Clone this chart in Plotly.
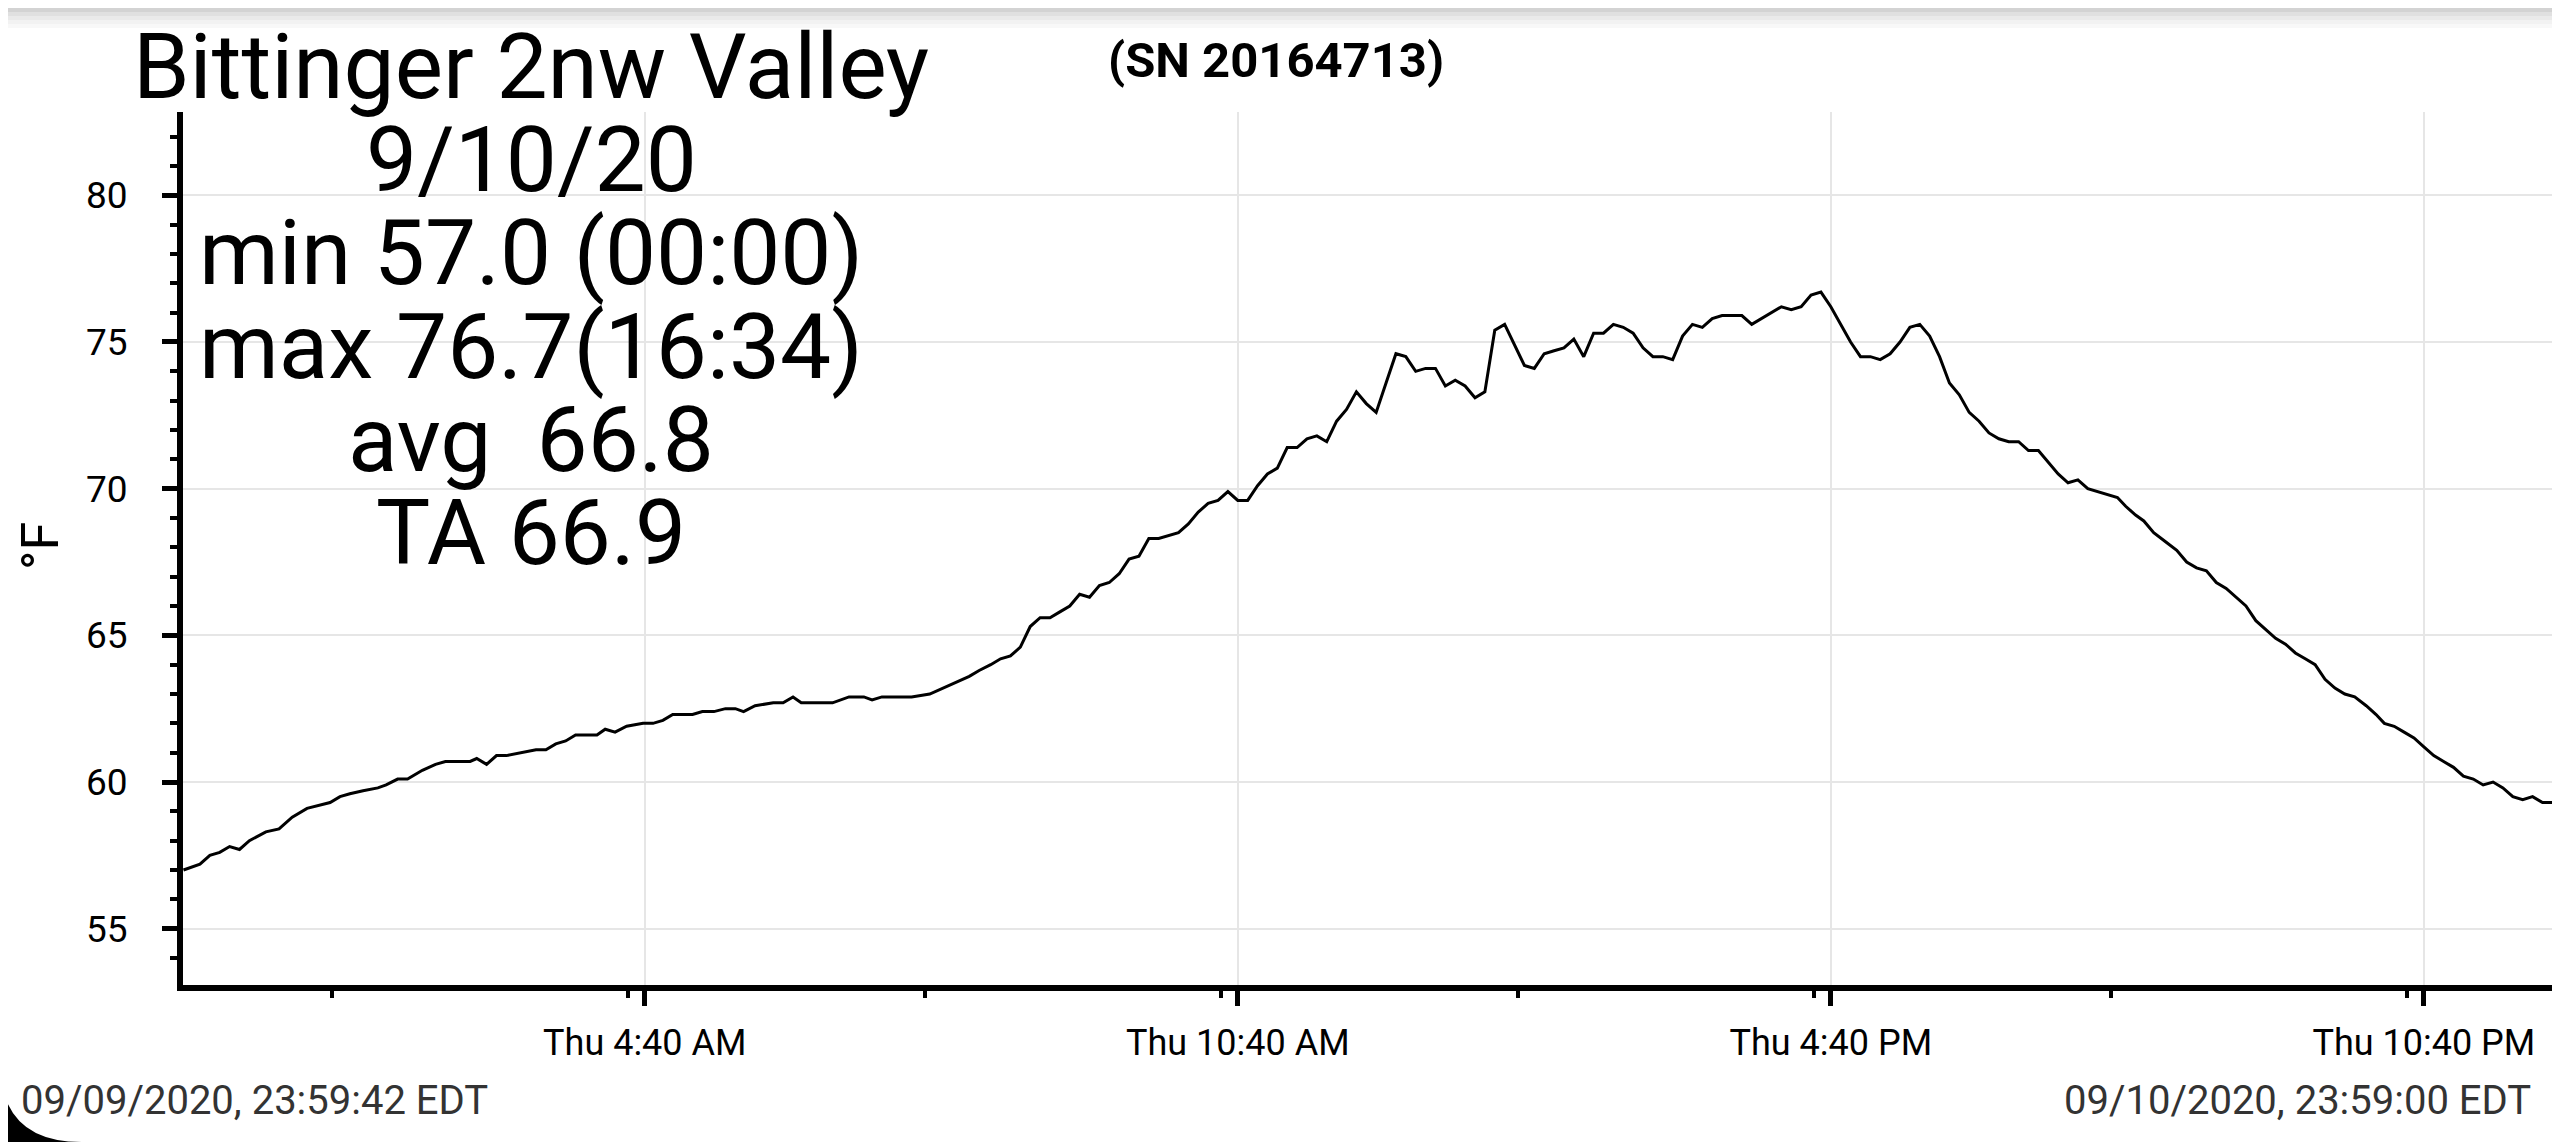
import plotly.graph_objects as go

# station readings for 9/10/20 (time of day, deg F)
times = [
    "00:00", "00:10", "00:16", "00:22", "00:28", "00:34", "00:40", "00:50", "00:58", "01:06",
    "01:15", "01:22", "01:29", "01:35", "01:41", "01:49", "01:58", "02:03", "02:10", "02:16",
    "02:25", "02:33", "02:39", "02:54", "02:58", "03:04", "03:10", "03:16", "03:24", "03:34",
    "03:40", "03:46", "03:52", "03:58", "04:05", "04:11", "04:16", "04:22", "04:29", "04:39",
    "04:45", "04:51", "04:57", "05:09", "05:15", "05:22", "05:29", "05:35", "05:40", "05:47",
    "05:58", "06:04", "06:10", "06:15", "06:34", "06:44", "06:53", "06:58", "07:04", "07:22",
    "07:33", "07:41", "07:49", "07:57", "08:03", "08:10", "08:16", "08:22", "08:28", "08:34",
    "08:40", "08:46", "08:52", "08:58", "09:04", "09:10", "09:16", "09:22", "09:28", "09:34",
    "09:40", "09:46", "09:52", "09:58", "10:04", "10:10", "10:16", "10:22", "10:28", "10:34",
    "10:40", "10:46", "10:52", "10:58", "11:04", "11:10", "11:16", "11:22", "11:28", "11:34",
    "11:40", "11:46", "11:52", "11:58", "12:04", "12:10", "12:16", "12:22", "12:28", "12:34",
    "12:40", "12:46", "12:52", "12:58", "13:04", "13:10", "13:16", "13:22", "13:28", "13:34",
    "13:40", "13:46", "13:52", "13:58", "14:04", "14:10", "14:16", "14:22", "14:28", "14:34",
    "14:40", "14:46", "14:52", "14:58", "15:04", "15:10", "15:16", "15:22", "15:28", "15:34",
    "15:40", "15:46", "15:52", "15:58", "16:04", "16:10", "16:16", "16:22", "16:28", "16:34",
    "16:40", "16:46", "16:52", "16:58", "17:04", "17:10", "17:16", "17:22", "17:28", "17:34",
    "17:40", "17:46", "17:52", "17:58", "18:04", "18:10", "18:16", "18:22", "18:28", "18:34",
    "18:40", "18:46", "18:52", "18:58", "19:04", "19:10", "19:16", "19:22", "19:28", "19:34",
    "19:39", "19:45", "19:50", "19:56", "20:03", "20:10", "20:16", "20:22", "20:28", "20:34",
    "20:40", "20:46", "20:52", "20:58", "21:04", "21:10", "21:16", "21:22", "21:28", "21:34",
    "21:40", "21:46", "21:52", "21:58", "22:05", "22:11", "22:16", "22:22", "22:28", "22:34",
    "22:40", "22:46", "22:52", "22:58", "23:04", "23:10", "23:16", "23:22", "23:28", "23:34",
    "23:40", "23:46", "23:52", "23:59",
]
temps = [
    57.0, 57.2, 57.5, 57.6, 57.8, 57.7, 58.0, 58.3, 58.4, 58.8,
    59.1, 59.2, 59.3, 59.5, 59.6, 59.7, 59.8, 59.9, 60.1, 60.1,
    60.4, 60.6, 60.7, 60.7, 60.8, 60.6, 60.9, 60.9, 61.0, 61.1,
    61.1, 61.3, 61.4, 61.6, 61.6, 61.6, 61.8, 61.7, 61.9, 62.0,
    62.0, 62.1, 62.3, 62.3, 62.4, 62.4, 62.5, 62.5, 62.4, 62.6,
    62.7, 62.7, 62.9, 62.7, 62.7, 62.9, 62.9, 62.8, 62.9, 62.9,
    63.0, 63.2, 63.4, 63.6, 63.8, 64.0, 64.2, 64.3, 64.6, 65.3,
    65.6, 65.6, 65.8, 66.0, 66.4, 66.3, 66.7, 66.8, 67.1, 67.6,
    67.7, 68.3, 68.3, 68.4, 68.5, 68.8, 69.2, 69.5, 69.6, 69.9,
    69.6, 69.6, 70.1, 70.5, 70.7, 71.4, 71.4, 71.7, 71.8, 71.6,
    72.3, 72.7, 73.3, 72.9, 72.6, 73.6, 74.6, 74.5, 74.0, 74.1,
    74.1, 73.5, 73.7, 73.5, 73.1, 73.3, 75.4, 75.6, 74.9, 74.2,
    74.1, 74.6, 74.7, 74.8, 75.1, 74.5, 75.3, 75.3, 75.6, 75.5,
    75.3, 74.8, 74.5, 74.5, 74.4, 75.2, 75.6, 75.5, 75.8, 75.9,
    75.9, 75.9, 75.6, 75.8, 76.0, 76.2, 76.1, 76.2, 76.6, 76.7,
    76.2, 75.6, 75.0, 74.5, 74.5, 74.4, 74.6, 75.0, 75.5, 75.6,
    75.2, 74.5, 73.6, 73.2, 72.6, 72.3, 71.9, 71.7, 71.6, 71.6,
    71.3, 71.3, 70.9, 70.5, 70.2, 70.3, 70.0, 69.9, 69.8, 69.7,
    69.4, 69.1, 68.9, 68.5, 68.2, 67.9, 67.5, 67.3, 67.2, 66.8,
    66.6, 66.3, 66.0, 65.5, 65.2, 64.9, 64.7, 64.4, 64.2, 64.0,
    63.5, 63.2, 63.0, 62.9, 62.6, 62.3, 62.0, 61.9, 61.7, 61.5,
    61.2, 60.9, 60.7, 60.5, 60.2, 60.1, 59.9, 60.0, 59.8, 59.5,
    59.4, 59.5, 59.3, 59.3,
]

station = "Bittinger 2nw Valley"
serial = "(SN 20164713)"
day_label = "9/10/20"
stat_lines = ["min 57.0 (00:00)", "max 76.7(16:34)", "avg\u00a0 66.8", "TA 66.9"]
start_label = "09/09/2020, 23:59:42 EDT"
end_label = "09/10/2020, 23:59:00 EDT"
x_start = "2020-09-09 23:59:42"
x_end = "2020-09-10 23:59:00"

# page is 2560x1142; the html body keeps its 8px margin, so the figure is a bit smaller
PAGE_W, PAGE_H = 2560, 1142
OFF = 8
W, H = PAGE_W - OFF, PAGE_H - OFF
# plot area in page pixels
L, R, T, B = 183, 2554, 112, 985


def px(x):
    return (x - L) / (R - L)


def py(y):
    return (B - y) / (B - T)


FONT = "Roboto"

fig = go.Figure()
fig.add_trace(go.Scatter(x=["2020-09-10 " + t for t in times], y=temps,
                         mode="lines", line=dict(color="black", width=3),
                         showlegend=False))

annotations = []
for i, txt in enumerate([day_label] + stat_lines):
    annotations.append(dict(text=txt, xref="paper", yref="paper",
                            x=px(531), y=py(160 + 93.3 * i),
                            xanchor="center", yanchor="middle", showarrow=False,
                            font=dict(family=FONT, size=91, color="black")))
annotations.append(dict(text="<b>" + serial + "</b>", xref="paper", yref="paper",
                        x=px(1276), y=py(61), xanchor="center", yanchor="middle",
                        showarrow=False, font=dict(family=FONT, size=49, color="black")))
annotations.append(dict(text=start_label, xref="paper", yref="paper",
                        x=px(19), y=py(1100), xanchor="left", yanchor="middle",
                        showarrow=False, font=dict(family=FONT, size=40, color="#333333")))
annotations.append(dict(text=end_label, xref="paper", yref="paper",
                        x=px(2533), y=py(1100), xanchor="right", yanchor="middle",
                        showarrow=False, font=dict(family=FONT, size=40, color="#333333")))
annotations.append(dict(text="°F", xref="paper", yref="paper", textangle=-90,
                        x=px(40), y=py(546), xanchor="center", yanchor="middle",
                        showarrow=False, font=dict(family=FONT, size=52, color="black")))

# screenshot frame: grey status bar shadow, rounded bottom-left corner, right edge strip
shapes = []
greys = ["#d3d3d3", "#e0e0e0", "#eaeaea", "#f2f2f2", "#f8f8f8"]
for i, g in enumerate(greys):
    shapes.append(dict(type="rect", xref="paper", yref="paper", layer="below",
                       x0=px(0), x1=px(PAGE_W), y0=py(OFF + 4 * i), y1=py(OFF + 4 * i + 4),
                       line=dict(width=0), fillcolor=g))
shapes.append(dict(type="path", xref="paper", yref="paper",
                   path="M %f,%f Q %f,%f %f,%f L %f,%f Z" % (
                       px(0), py(1062), px(0), py(PAGE_H), px(82), py(PAGE_H),
                       px(0), py(PAGE_H)),
                   line=dict(width=0), fillcolor="black"))
shapes.append(dict(type="rect", xref="paper", yref="paper", layer="below",
                   x0=px(R), x1=px(PAGE_W), y0=py(B), y1=py(T),
                   line=dict(width=0), fillcolor="#efefef"))

fig.update_layout(
    width=W, height=H, autosize=False,
    margin=dict(l=L - OFF, r=PAGE_W - R, t=T - OFF, b=PAGE_H - B, pad=0),
    paper_bgcolor="white", plot_bgcolor="white",
    font=dict(family=FONT, color="black"),
    title=dict(text=station, xref="container", yref="container",
               x=(531 - OFF) / W, y=1 - (66 - OFF) / H, xanchor="center", yanchor="middle",
               font=dict(family=FONT, size=91, color="black")),
    annotations=annotations,
    shapes=shapes,
    xaxis=dict(
        type="date", range=[x_start, x_end],
        tick0="2020-09-10 04:40", dtick=6 * 3600 * 1000,
        tickformat="%a %-I:%M %p",
        ticks="outside", ticklen=15, tickwidth=5, tickcolor="black",
        showline=True, linewidth=6, linecolor="black",
        showgrid=True, gridcolor="#e6e6e6", gridwidth=1.5, zeroline=False,
        tickfont=dict(family=FONT, size=36, color="black"),
        ticklabelstandoff=6,
        minor=dict(tick0="2020-09-10 01:30", dtick=3 * 3600 * 1000,
                   ticks="outside", ticklen=7, tickwidth=4, tickcolor="black",
                   showgrid=False),
    ),
    yaxis=dict(
        range=[53.08, 82.84], tick0=0, dtick=5,
        ticks="outside", ticklen=15, tickwidth=5, tickcolor="black",
        showline=True, linewidth=6, linecolor="black",
        showgrid=True, gridcolor="#e6e6e6", gridwidth=1.5, zeroline=False,
        tickfont=dict(family=FONT, size=37, color="black"),
        ticklabelstandoff=27,
        minor=dict(dtick=1, ticks="outside", ticklen=7, tickwidth=4, tickcolor="black",
                   showgrid=False),
    ),
)

fig.write_html("out.html")
